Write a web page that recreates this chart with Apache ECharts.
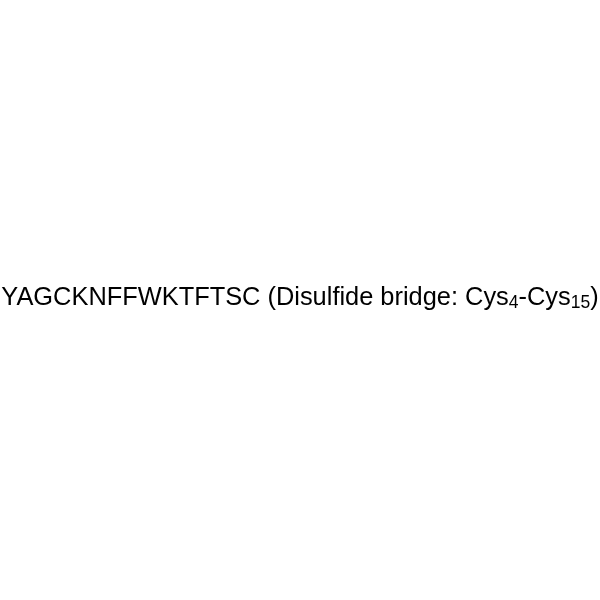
<!DOCTYPE html>
<html>
<head>
<meta charset="utf-8">
<script src="https://cdn.jsdelivr.net/npm/echarts@6/dist/echarts.min.js"></script>
<style>
html, body { margin: 0; padding: 0; background: #fff; }
#main { width: 600px; height: 600px; }
</style>
</head>
<body>
<div id="main"></div>
<script>
// sequence and disulfide bridge parts
var sequence = 'YAGCKNFFWKTFTSC';
var bridgeLabel = 'Disulfide bridge: ';
var residues = ['Cys', 'Cys'];
var positions = ['4', '15'];

var myChart = echarts.init(document.getElementById('main'));

var text = sequence + ' (' + bridgeLabel +
    residues[0] + '{sub|' + positions[0] + '}-' +
    residues[1] + '{sub|' + positions[1] + '})';

var option = {
    backgroundColor: '#fff',
    graphic: [{
        type: 'text',
        left: 'center',
        top: 285,
        style: {
            text: text,
            fontFamily: 'Liberation Sans, Arial, sans-serif',
            fontSize: 25.4,
            fill: '#000',
            rich: {
                sub: {
                    fontFamily: 'Liberation Sans, Arial, sans-serif',
                    fontSize: 17.5,
                    fill: '#000',
                    padding: [11, 0, 0, 0]
                }
            }
        }
    }]
};

myChart.setOption(option);
</script>
</body>
</html>
